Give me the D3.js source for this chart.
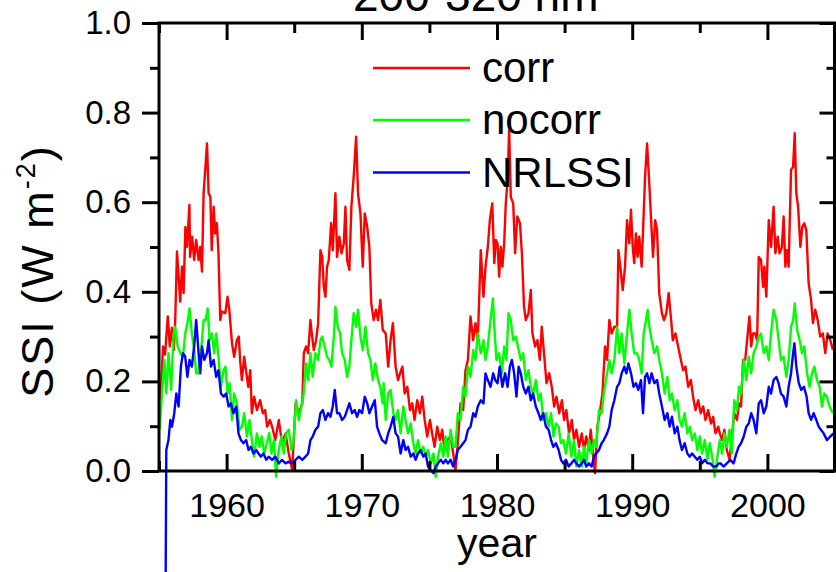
<!DOCTYPE html>
<html>
<head>
<meta charset="utf-8">
<script src="https://cdn.jsdelivr.net/npm/d3@7"></script>
<style>
  html, body { margin: 0; padding: 0; background: #fff; }
  svg { display: block; }
  text { font-family: "Liberation Sans", Arial, Helvetica, sans-serif; fill: #000; }
</style>
</head>
<body>
<svg id="chart" width="836" height="572"></svg>
<script>
// ---------------- DATA ----------------
const titleText = "200-320 nm";
const xLabelText = "year";
const seriesNames = ["corr", "nocorr", "NRLSSI"];
const seriesColors = ["#ff0000", "#00ff00", "#0000ff"];
const xMajorTicks = [1960, 1970, 1980, 1990, 2000];
const xMinorTicks = [1955, 1965, 1975, 1985, 1995, 2005];
const yMajorTicks = [0.0, 0.2, 0.4, 0.6, 0.8, 1.0];
const yMinorTicks = [0.1, 0.3, 0.5, 0.7, 0.9];

// [year, SSI (W m^-2)]
const corr = [
[1955.1,0.158],[1955.3,0.278],[1955.45,0.26],[1955.65,0.345],[1955.8,0.278],[1955.95,0.32],[1956.1,0.27],[1956.2,0.337],[1956.33,0.49],[1956.45,0.434],[1956.57,0.378],[1956.7,0.456],[1956.82,0.397],[1956.95,0.545],[1957.07,0.5],[1957.25,0.594],[1957.3,0.478],[1957.45,0.523],[1957.6,0.471],[1957.75,0.516],[1957.93,0.471],[1958.05,0.5],[1958.18,0.445],[1958.3,0.62],[1958.42,0.672],[1958.55,0.731],[1958.67,0.62],[1958.8,0.612],[1958.9,0.493],[1959.04,0.59],[1959.16,0.53],[1959.28,0.553],[1959.4,0.486],[1959.53,0.337],[1959.65,0.356],[1959.9,0.352],[1960.07,0.389],[1960.2,0.36],[1960.4,0.285],[1960.56,0.255],[1960.76,0.292],[1960.9,0.3],[1961.0,0.248],[1961.13,0.203],[1961.3,0.255],[1961.5,0.21],[1961.6,0.188],[1961.75,0.225],[1961.87,0.129],[1962.04,0.166],[1962.24,0.136],[1962.48,0.158],[1962.68,0.129],[1962.85,0.136],[1963.0,0.099],[1963.2,0.114],
[1963.37,0.099],[1963.6,0.069],[1963.86,0.114],[1964.1,0.062],[1964.36,0.084],[1964.6,0.039],[1964.85,0.002],[1965.1,0.151],[1965.34,0.129],[1965.6,0.151],[1965.71,0.263],[1965.88,0.278],[1966.03,0.263],[1966.2,0.337],[1966.3,0.307],[1966.45,0.27],[1966.62,0.292],[1966.77,0.33],[1966.94,0.493],[1967.07,0.478],[1967.19,0.411],[1967.31,0.389],[1967.43,0.456],[1967.56,0.471],[1967.73,0.553],[1967.85,0.493],[1968.05,0.62],[1968.17,0.478],[1968.34,0.523],[1968.5,0.486],[1968.67,0.508],[1968.79,0.59],[1968.91,0.471],[1969.08,0.449],[1969.23,0.59],[1969.4,0.657],[1969.58,0.746],[1969.72,0.62],[1969.9,0.575],[1970.07,0.456],[1970.22,0.575],[1970.4,0.545],[1970.56,0.5],[1970.7,0.374],[1970.88,0.337],[1971.05,0.36],[1971.2,0.337],[1971.37,0.382],
[1971.55,0.315],[1971.77,0.307],[1971.95,0.233],[1972.13,0.292],[1972.3,0.33],[1972.5,0.233],[1972.68,0.203],[1972.83,0.218],[1973.0,0.233],[1973.17,0.173],[1973.37,0.188],[1973.56,0.136],[1973.73,0.151],[1973.9,0.114],[1974.1,0.158],[1974.3,0.129],[1974.47,0.166],[1974.65,0.114],[1974.84,0.077],[1975.04,0.114],[1975.2,0.084],[1975.38,0.054],[1975.58,0.099],[1975.78,0.069],[1975.95,0.092],[1976.12,0.047],[1976.32,0.069],[1976.57,0.077],[1976.76,0.039],[1976.93,0.002],[1977.1,0.062],[1977.3,0.151],[1977.5,0.136],[1977.67,0.225],[1977.85,0.248],[1978.04,0.345],[1978.24,0.292],[1978.41,0.33],[1978.58,0.292],[1978.8,0.493],[1979.0,0.389],[1979.15,0.456],[1979.32,0.5],[1979.47,0.56],[1979.65,0.597],
[1979.8,0.464],[1979.91,0.516],[1980.04,0.508],[1980.16,0.434],[1980.28,0.5],[1980.4,0.456],[1980.53,0.508],[1980.65,0.597],[1980.78,0.65],[1980.9,0.761],[1981.02,0.612],[1981.2,0.597],[1981.34,0.486],[1981.5,0.568],[1981.7,0.553],[1981.84,0.486],[1982.0,0.367],[1982.13,0.337],[1982.33,0.352],[1982.5,0.404],[1982.62,0.307],[1982.82,0.278],[1982.99,0.292],[1983.17,0.248],[1983.31,0.322],[1983.5,0.255],[1983.66,0.196],[1983.86,0.218],[1984.05,0.188],[1984.23,0.144],[1984.4,0.166],[1984.6,0.129],[1984.8,0.158],[1984.96,0.114],[1985.13,0.136],[1985.33,0.084],[1985.53,0.114],[1985.7,0.069],[1985.87,0.092],[1986.07,0.054],[1986.27,0.084],[1986.44,0.047],[1986.6,0.077],[1986.8,0.047],[1986.93,0.092],[1987.1,0.039],[1987.25,-0.005],[1987.42,0.099],[1987.6,0.129],[1987.8,0.173],[1987.99,0.278],
[1988.14,0.248],[1988.31,0.337],[1988.48,0.307],[1988.68,0.322],[1988.88,0.322],[1988.98,0.493],[1989.12,0.456],[1989.3,0.404],[1989.47,0.456],[1989.62,0.56],[1989.79,0.508],[1989.91,0.583],[1990.04,0.5],[1990.15,0.464],[1990.28,0.53],[1990.4,0.478],[1990.52,0.523],[1990.7,0.456],[1990.85,0.575],[1990.95,0.657],[1991.1,0.731],[1991.25,0.65],[1991.4,0.56],[1991.54,0.478],[1991.7,0.56],[1991.84,0.537],[1992.0,0.397],[1992.2,0.352],[1992.35,0.337],[1992.52,0.352],[1992.7,0.397],[1992.9,0.33],[1993.0,0.292],[1993.2,0.307],[1993.4,0.278],[1993.6,0.248],[1993.77,0.225],[1993.94,0.233],[1994.14,0.188],[1994.34,0.203],[1994.5,0.166],[1994.68,0.136],[1994.88,0.158],[1995.07,0.129],[1995.25,0.144],[1995.42,0.114],[1995.62,0.136],[1995.82,0.106],[1995.99,0.121],[1996.16,0.084],
[1996.36,0.099],[1996.48,0.084],[1996.65,0.069],[1996.82,0.092],[1997.0,0.047],[1997.2,0.025],[1997.37,0.077],[1997.55,0.129],[1997.75,0.114],[1997.9,0.151],[1998.05,0.144],[1998.2,0.248],[1998.36,0.248],[1998.5,0.292],[1998.67,0.345],[1998.8,0.278],[1998.93,0.307],[1999.1,0.307],[1999.24,0.292],[1999.36,0.478],[1999.53,0.471],[1999.68,0.411],[1999.77,0.456],[1999.92,0.389],[2000.1,0.56],[2000.27,0.5],[2000.46,0.59],[2000.59,0.486],[2000.76,0.523],[2000.9,0.486],[2001.07,0.5],[2001.2,0.568],[2001.33,0.456],[2001.45,0.493],[2001.57,0.456],[2001.75,0.672],[2001.9,0.679],[2002.02,0.754],[2002.14,0.62],[2002.27,0.59],[2002.44,0.5],[2002.58,0.545],[2002.73,0.553],[2002.88,0.537],[2003.05,0.419],[2003.23,0.382],[2003.37,0.33],[2003.54,0.36],[2003.72,0.337],[2003.91,0.3],[2004.1,0.307],[2004.28,0.263],[2004.45,0.307],[2004.65,0.292],[2004.85,0.27]
];

const nocorr = [
[1955.05,0.092],[1955.22,0.173],[1955.4,0.248],[1955.54,0.173],[1955.7,0.263],[1955.9,0.181],[1956.08,0.307],[1956.2,0.322],[1956.38,0.278],[1956.58,0.263],[1956.77,0.255],[1956.94,0.307],[1957.1,0.33],[1957.26,0.363],[1957.43,0.307],[1957.6,0.27],[1957.75,0.218],[1957.93,0.218],[1958.1,0.263],[1958.3,0.337],[1958.45,0.337],[1958.6,0.363],[1958.74,0.292],[1958.91,0.307],[1959.08,0.263],[1959.23,0.307],[1959.4,0.255],[1959.58,0.188],[1959.78,0.225],[1959.92,0.233],[1960.07,0.173],[1960.22,0.196],[1960.4,0.114],[1960.56,0.173],[1960.76,0.151],[1960.96,0.092],[1961.13,0.099],[1961.3,0.129],[1961.5,0.077],[1961.7,0.114],[1961.87,0.069],[1962.04,0.032],[1962.24,0.084],[1962.43,0.054],[1962.6,0.077],[1962.78,0.039],[1962.98,0.062],[1963.15,0.085],
[1963.32,0.039],[1963.5,0.069],[1963.66,-0.013],[1963.86,0.047],[1964.06,0.077],[1964.23,0.039],[1964.4,0.084],[1964.6,0.092],[1964.8,0.047],[1964.96,0.069],[1965.14,0.158],[1965.34,0.114],[1965.53,0.144],[1965.7,0.173],[1965.88,0.24],[1966.03,0.203],[1966.2,0.263],[1966.37,0.21],[1966.57,0.263],[1966.77,0.248],[1966.94,0.292],[1967.07,0.3],[1967.26,0.278],[1967.43,0.255],[1967.6,0.248],[1967.75,0.233],[1967.93,0.3],[1968.05,0.367],[1968.22,0.322],[1968.4,0.307],[1968.54,0.263],[1968.74,0.248],[1968.91,0.21],[1969.08,0.233],[1969.23,0.292],[1969.4,0.352],[1969.58,0.322],[1969.72,0.36],[1969.9,0.3],[1970.07,0.27],[1970.27,0.322],[1970.46,0.263],[1970.64,0.248],[1970.81,0.203],[1971.0,0.24],[1971.2,0.203],[1971.37,0.188],
[1971.54,0.151],[1971.62,0.196],[1971.77,0.114],[1971.95,0.173],[1972.13,0.181],[1972.33,0.129],[1972.5,0.114],[1972.68,0.136],[1972.87,0.084],[1973.07,0.144],[1973.24,0.114],[1973.42,0.084],[1973.62,0.106],[1973.81,0.062],[1973.98,0.039],[1974.15,0.069],[1974.35,0.039],[1974.55,0.054],[1974.72,0.032],[1974.9,0.047],[1975.1,0.017],[1975.3,0.039],[1975.47,-0.013],[1975.64,0.032],[1975.84,0.062],[1976.03,0.032],[1976.2,0.077],[1976.37,0.032],[1976.57,0.092],[1976.76,0.054],[1976.93,0.054],[1977.1,0.129],[1977.3,0.114],[1977.5,0.188],[1977.67,0.166],[1977.85,0.233],[1978.04,0.21],[1978.24,0.27],[1978.41,0.248],[1978.58,0.307],[1978.8,0.263],[1979.0,0.292],[1979.15,0.248],[1979.32,0.278],[1979.52,0.337],[1979.7,0.385],
[1979.8,0.322],[1979.96,0.248],[1980.16,0.263],[1980.36,0.218],[1980.53,0.278],[1980.7,0.248],[1980.85,0.352],[1981.02,0.337],[1981.2,0.292],[1981.39,0.3],[1981.6,0.27],[1981.76,0.248],[1981.94,0.263],[1982.13,0.203],[1982.33,0.225],[1982.5,0.188],[1982.67,0.173],[1982.87,0.203],[1983.07,0.158],[1983.24,0.173],[1983.42,0.114],[1983.62,0.129],[1983.82,0.099],[1984.0,0.129],[1984.17,0.077],[1984.36,0.106],[1984.56,0.099],[1984.73,0.062],[1984.9,0.069],[1985.1,0.039],[1985.3,0.084],[1985.5,0.032],[1985.7,0.069],[1985.87,0.01],[1986.07,0.047],[1986.27,0.01],[1986.44,0.054],[1986.6,0.017],[1986.8,0.069],[1987.0,0.039],[1987.17,0.069],[1987.34,0.054],[1987.54,0.136],[1987.74,0.129],[1987.9,0.173],
[1988.14,0.218],[1988.31,0.248],[1988.48,0.218],[1988.68,0.248],[1988.88,0.322],[1989.05,0.263],[1989.22,0.307],[1989.42,0.24],[1989.62,0.307],[1989.79,0.36],[1989.96,0.307],[1990.15,0.263],[1990.35,0.263],[1990.52,0.248],[1990.7,0.218],[1990.85,0.307],[1991.02,0.337],[1991.15,0.36],[1991.27,0.322],[1991.44,0.292],[1991.64,0.263],[1991.84,0.278],[1992.0,0.248],[1992.2,0.218],[1992.4,0.173],[1992.6,0.21],[1992.77,0.158],[1992.94,0.173],[1993.14,0.136],[1993.34,0.158],[1993.5,0.114],[1993.68,0.099],[1993.88,0.129],[1994.08,0.084],[1994.26,0.099],[1994.43,0.069],[1994.63,0.084],[1994.82,0.047],[1995.0,0.077],[1995.17,0.039],[1995.37,0.069],[1995.57,0.025],[1995.74,0.062],[1995.92,0.032],[1996.1,-0.013],[1996.3,0.032],
[1996.48,0.069],[1996.65,0.039],[1996.82,0.084],[1997.0,0.054],[1997.2,0.092],[1997.37,0.039],[1997.55,0.158],[1997.75,0.136],[1997.9,0.188],[1998.05,0.173],[1998.25,0.248],[1998.44,0.203],[1998.62,0.255],[1998.8,0.218],[1998.98,0.263],[1999.18,0.278],[1999.36,0.3],[1999.53,0.307],[1999.73,0.263],[1999.92,0.278],[2000.1,0.248],[2000.27,0.307],[2000.46,0.36],[2000.66,0.337],[2000.83,0.292],[2001.0,0.248],[2001.2,0.255],[2001.4,0.21],[2001.57,0.248],[2001.75,0.322],[2001.9,0.337],[2002.02,0.374],[2002.2,0.315],[2002.39,0.292],[2002.56,0.263],[2002.73,0.278],[2002.93,0.218],[2003.12,0.188],[2003.3,0.218],[2003.47,0.233],[2003.67,0.203],[2003.86,0.188],[2004.04,0.144],[2004.2,0.173],[2004.4,0.166],[2004.6,0.144],[2004.85,0.129]
];

const nrlssi = [
[1955.45,-0.5],[1955.54,0.047],[1955.7,0.069],[1955.84,0.114],[1955.96,0.099],[1956.13,0.129],[1956.28,0.173],[1956.45,0.144],[1956.62,0.233],[1956.77,0.263],[1956.94,0.255],[1957.1,0.21],[1957.26,0.248],[1957.43,0.233],[1957.6,0.278],[1957.75,0.337],[1957.93,0.263],[1958.05,0.218],[1958.18,0.278],[1958.35,0.248],[1958.55,0.263],[1958.67,0.292],[1958.84,0.233],[1959.04,0.248],[1959.23,0.21],[1959.4,0.225],[1959.58,0.173],[1959.78,0.166],[1959.97,0.173],[1960.15,0.144],[1960.32,0.151],[1960.51,0.129],[1960.71,0.144],[1960.88,0.084],[1961.06,0.069],[1961.25,0.062],[1961.45,0.069],[1961.62,0.047],[1961.8,0.054],[1961.99,0.039],[1962.19,0.047],[1962.36,0.039],[1962.53,0.032],[1962.73,0.039],[1962.93,0.025],
[1963.12,0.032],[1963.37,0.025],[1963.6,0.032],[1963.86,0.017],[1964.1,0.025],[1964.36,0.017],[1964.6,0.021],[1964.85,0.017],[1965.1,0.025],[1965.34,0.032],[1965.6,0.025],[1965.83,0.032],[1966.03,0.039],[1966.2,0.069],[1966.37,0.077],[1966.57,0.092],[1966.77,0.099],[1966.94,0.129],[1967.12,0.136],[1967.31,0.114],[1967.5,0.129],[1967.68,0.121],[1967.85,0.144],[1968.0,0.181],[1968.17,0.129],[1968.34,0.129],[1968.54,0.114],[1968.74,0.121],[1968.91,0.136],[1969.08,0.151],[1969.28,0.129],[1969.48,0.136],[1969.65,0.121],[1969.82,0.136],[1970.02,0.129],[1970.22,0.166],[1970.4,0.151],[1970.56,0.129],[1970.76,0.144],[1970.96,0.158],[1971.13,0.099],[1971.3,0.084],[1971.5,0.069],
[1971.77,0.062],[1971.95,0.084],[1972.13,0.099],[1972.33,0.121],[1972.5,0.084],[1972.68,0.077],[1972.87,0.039],[1973.07,0.069],[1973.24,0.047],[1973.42,0.054],[1973.62,0.032],[1973.81,0.039],[1973.98,0.025],[1974.15,0.039],[1974.35,0.047],[1974.55,0.032],[1974.72,0.039],[1974.9,0.01],[1975.1,0.002],[1975.3,-0.005],[1975.47,0.01],[1975.64,0.017],[1975.84,0.025],[1976.03,0.017],[1976.2,0.025],[1976.37,0.017],[1976.57,0.025],[1976.76,0.01],[1976.93,0.025],[1977.1,0.047],[1977.3,0.054],[1977.5,0.062],[1977.67,0.069],[1977.85,0.092],[1978.04,0.099],[1978.24,0.129],[1978.41,0.121],[1978.58,0.144],[1978.8,0.158],[1979.0,0.151],[1979.15,0.218],[1979.32,0.203],[1979.52,0.188],[1979.72,0.218],
[1979.87,0.203],[1980.04,0.196],[1980.2,0.233],[1980.4,0.188],[1980.6,0.218],[1980.78,0.188],[1980.95,0.233],[1981.1,0.248],[1981.27,0.218],[1981.44,0.166],[1981.6,0.233],[1981.76,0.218],[1981.94,0.188],[1982.13,0.173],[1982.33,0.188],[1982.5,0.158],[1982.67,0.173],[1982.87,0.144],[1983.07,0.129],[1983.24,0.114],[1983.42,0.129],[1983.62,0.099],[1983.82,0.092],[1984.0,0.069],[1984.17,0.054],[1984.36,0.062],[1984.56,0.047],[1984.73,0.025],[1984.9,0.017],[1985.1,0.025],[1985.3,0.01],[1985.5,0.017],[1985.7,0.025],[1985.87,0.017],[1986.07,0.01],[1986.27,0.017],[1986.44,0.025],[1986.6,0.01],[1986.8,0.017],[1987.0,0.01],[1987.17,0.032],[1987.34,0.039],[1987.54,0.047],[1987.74,0.062],[1987.9,0.069],
[1988.14,0.084],[1988.31,0.099],[1988.48,0.136],[1988.68,0.158],[1988.88,0.188],[1989.05,0.196],[1989.22,0.218],[1989.42,0.233],[1989.57,0.218],[1989.72,0.24],[1989.91,0.218],[1990.1,0.188],[1990.28,0.196],[1990.45,0.181],[1990.65,0.203],[1990.8,0.129],[1990.95,0.21],[1991.1,0.218],[1991.27,0.196],[1991.44,0.218],[1991.64,0.196],[1991.84,0.203],[1992.0,0.173],[1992.2,0.144],[1992.4,0.114],[1992.6,0.129],[1992.77,0.099],[1992.94,0.121],[1993.14,0.084],[1993.34,0.099],[1993.5,0.069],[1993.68,0.047],[1993.88,0.062],[1994.08,0.039],[1994.26,0.032],[1994.43,0.039],[1994.63,0.032],[1994.82,0.025],[1995.0,0.032],[1995.17,0.017],[1995.37,0.025],[1995.57,0.017],[1995.77,0.017],[1995.99,0.01],[1996.23,0.01],
[1996.4,0.017],[1996.53,0.017],[1996.77,0.01],[1997.0,0.017],[1997.25,0.025],[1997.5,0.017],[1997.7,0.039],[1997.87,0.054],[1998.05,0.062],[1998.25,0.077],[1998.44,0.099],[1998.62,0.106],[1998.8,0.129],[1998.98,0.114],[1999.18,0.084],[1999.36,0.151],[1999.53,0.158],[1999.73,0.129],[1999.92,0.144],[2000.1,0.188],[2000.27,0.173],[2000.46,0.203],[2000.66,0.21],[2000.83,0.196],[2001.0,0.173],[2001.2,0.166],[2001.4,0.144],[2001.57,0.188],[2001.75,0.218],[2001.9,0.263],[2002.0,0.285],[2002.14,0.233],[2002.32,0.196],[2002.5,0.181],[2002.7,0.188],[2002.9,0.166],[2003.05,0.129],[2003.23,0.114],[2003.42,0.129],[2003.62,0.114],[2003.79,0.099],[2003.96,0.092],[2004.16,0.084],[2004.4,0.069],[2004.65,0.077],[2004.9,0.084]
];

const seriesData = [corr, nocorr, nrlssi];

// ---------------- LAYOUT ----------------
const plotL = 159, plotR = 835, plotT = 23, plotB = 471;
const svg = d3.select("#chart");

const x = d3.scaleLinear().domain([1955, 2005]).range([plotL, plotR]);
const y = d3.scaleLinear().domain([0, 1]).range([plotB, plotT]);

const AXW = 3;
const FONT = "Liberation Sans, Arial, sans-serif";
function styleAxis(g) {
  g.selectAll(".domain").remove();
  g.selectAll(".tick line").attr("stroke", "#000").attr("stroke-width", AXW);
}

// data lines
const line = d3.line().x(d => x(d[0])).y(d => y(d[1]));
svg.append("g").selectAll("path")
  .data(seriesData)
  .join("path")
  .attr("d", d => line(d))
  .attr("fill", "none")
  .attr("stroke", (d, i) => seriesColors[i])
  .attr("stroke-width", 2.4)
  .attr("stroke-linejoin", "round");

// bottom axis: inward ticks
svg.append("g").attr("transform", `translate(0,${plotB})`)
  .call(d3.axisTop(x).tickValues(xMajorTicks).tickSize(17).tickFormat(""))
  .call(styleAxis);
svg.append("g").attr("transform", `translate(0,${plotB})`)
  .call(d3.axisTop(x).tickValues(xMinorTicks).tickSize(10).tickFormat(""))
  .call(styleAxis);
// bottom labels
const xl = svg.append("g").attr("transform", `translate(0,${plotB})`)
  .call(d3.axisBottom(x).tickValues(xMajorTicks).tickSize(0).tickPadding(22).tickFormat(d3.format("d")));
xl.selectAll(".domain").remove();
xl.selectAll("text").attr("font-size", 34).attr("font-family", FONT).attr("fill", "#000");

// top axis: inward ticks
svg.append("g").attr("transform", `translate(0,${plotT})`)
  .call(d3.axisBottom(x).tickValues(xMajorTicks).tickSize(17).tickFormat(""))
  .call(styleAxis);
svg.append("g").attr("transform", `translate(0,${plotT})`)
  .call(d3.axisBottom(x).tickValues(xMinorTicks).tickSize(10).tickFormat(""))
  .call(styleAxis);

// left axis: outward ticks with labels
const yl = svg.append("g").attr("transform", `translate(${plotL},0)`)
  .call(d3.axisLeft(y).tickValues(yMajorTicks).tickSize(17).tickPadding(11).tickFormat(d3.format(".1f")));
yl.selectAll(".domain").remove();
yl.selectAll(".tick line").attr("stroke", "#000").attr("stroke-width", AXW);
yl.selectAll("text").attr("font-size", 33).attr("font-family", FONT).attr("fill", "#000");
svg.append("g").attr("transform", `translate(${plotL},0)`)
  .call(d3.axisLeft(y).tickValues(yMinorTicks).tickSize(9).tickFormat(""))
  .call(styleAxis);

// right axis: inward ticks
const rightX = plotR - 0.5;
svg.append("g").attr("transform", `translate(${rightX},0)`)
  .call(d3.axisRight(y).tickValues(yMajorTicks).tickSize(-15).tickFormat(""))
  .call(styleAxis);
svg.append("g").attr("transform", `translate(${rightX},0)`)
  .call(d3.axisRight(y).tickValues(yMinorTicks).tickSize(-8).tickFormat(""))
  .call(styleAxis);

// frame
svg.append("path")
  .attr("d", `M${plotL},${plotT}H${rightX}V${plotB}H${plotL}Z`)
  .attr("fill", "none").attr("stroke", "#000").attr("stroke-width", AXW)
  .attr("stroke-linejoin", "miter");

// title (partially cut at top, as in the reference)
svg.append("text").attr("x", 353).attr("y", 11)
  .attr("font-size", 46).attr("font-family", FONT).text(titleText);

// x label
svg.append("text").attr("x", (plotL + plotR) / 2).attr("y", 557)
  .attr("text-anchor", "middle").attr("font-size", 41).attr("font-family", FONT).text(xLabelText);

// y label
const ylab = svg.append("text")
  .attr("transform", "translate(53,271) rotate(-90)")
  .attr("text-anchor", "middle").attr("font-size", 45)
  .attr("letter-spacing", 2).attr("font-family", FONT);
ylab.append("tspan").text("SSI (W m");
ylab.append("tspan").attr("font-size", 27).attr("dy", -18).text("-2");
ylab.append("tspan").attr("dy", 18).text(")");

// legend
const legY = [68, 120, 172.5];
const leg = svg.append("g");
seriesNames.forEach((name, i) => {
  leg.append("line").attr("x1", 373).attr("x2", 470)
    .attr("y1", legY[i]).attr("y2", legY[i])
    .attr("stroke", seriesColors[i]).attr("stroke-width", 2.4);
  leg.append("text").attr("x", 482).attr("y", legY[i] + 14)
    .attr("font-size", 42).attr("font-family", FONT).text(name);
});
</script>
</body>
</html>
